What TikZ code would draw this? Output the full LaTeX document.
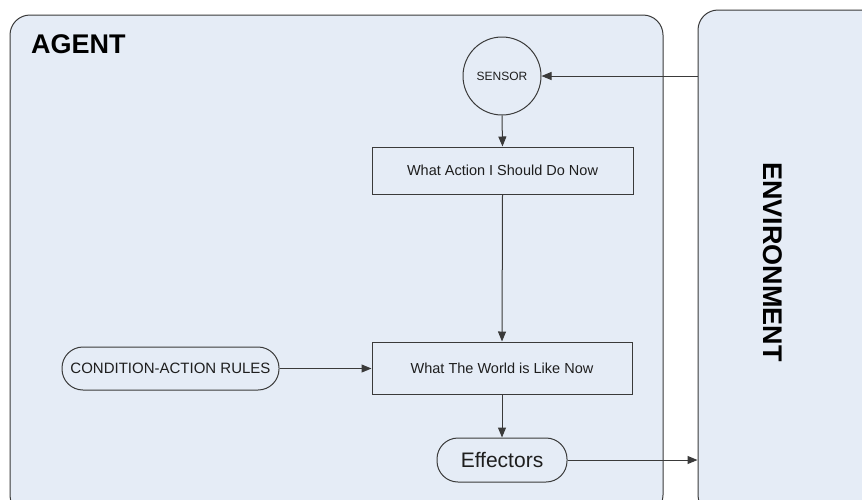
\documentclass[tikz,border=0pt]{standalone}
\usepackage{fontspec}
\setmainfont{Liberation Sans}
\usetikzlibrary{arrows.meta}
\definecolor{panelfill}{HTML}{E5ECF6}
\definecolor{edge}{HTML}{3A3A3A}
\definecolor{txt}{HTML}{1E1E1E}
\tikzset{
  panel/.style={draw=edge, line width=1pt, fill=panelfill, rounded corners=20pt, inner sep=0pt},
  boxnode/.style={draw=edge, line width=1pt, fill=panelfill, inner sep=0pt, text=txt, font=\fontsize{14.5}{16}\selectfont},
  pill/.style={boxnode, rounded corners=21pt},
  conn/.style={draw=edge, line width=1pt, -{Triangle[length=10pt,width=8pt]}},
  title/.style={font=\fontsize{27}{30}\selectfont\bfseries, text=black, inner sep=0pt}
}
\begin{document}
\begin{tikzpicture}[x=1pt,y=-1pt]
\useasboundingbox (0,0) rectangle (862,499);
\clip (0,0) rectangle (862,499);
\fill[white] (0,0) rectangle (862,499);
\node[panel, minimum width=653pt, minimum height=500pt] (agent) at (336.5,265) {};
\node[panel, minimum width=192pt, minimum height=505pt] (env) at (794,262.5) {};
\node[title, anchor=base west] (agentlabel) at (31,53) {AGENT};
\node[title, rotate=-90] (envlabel) at (773,262) {ENVIRONMENT};
\node[boxnode, circle, minimum size=78pt, font=\fontsize{12}{14}\selectfont] (sensor) at (502,76) {SENSOR};
\node[boxnode, minimum width=261pt, minimum height=47pt] (action) at (502.5,170.5) {What Action I Should Do Now};
\node[boxnode, minimum width=260pt, minimum height=52pt] (world) at (502,368) {What The World is Like Now};
\node[pill, minimum width=217pt, minimum height=43pt, font=\fontsize{15}{17}\selectfont] (rules) at (170.5,368.5) {CONDITION-ACTION RULES};
\node[pill, minimum width=130pt, minimum height=44pt, font=\fontsize{21}{24}\selectfont] (effectors) at (502,460) {Effectors};
\draw[conn] (env.west |- sensor.east) -- (sensor.east);
\draw[conn] (sensor.south) -- (action.north);
\draw[conn] (action.south) -- (world.north);
\draw[conn] (rules.east) -- (world.west |- rules.east);
\draw[conn] (world.south) -- (effectors.north);
\draw[conn] (effectors.east) -- (env.west |- effectors.east);
\end{tikzpicture}
\end{document}
